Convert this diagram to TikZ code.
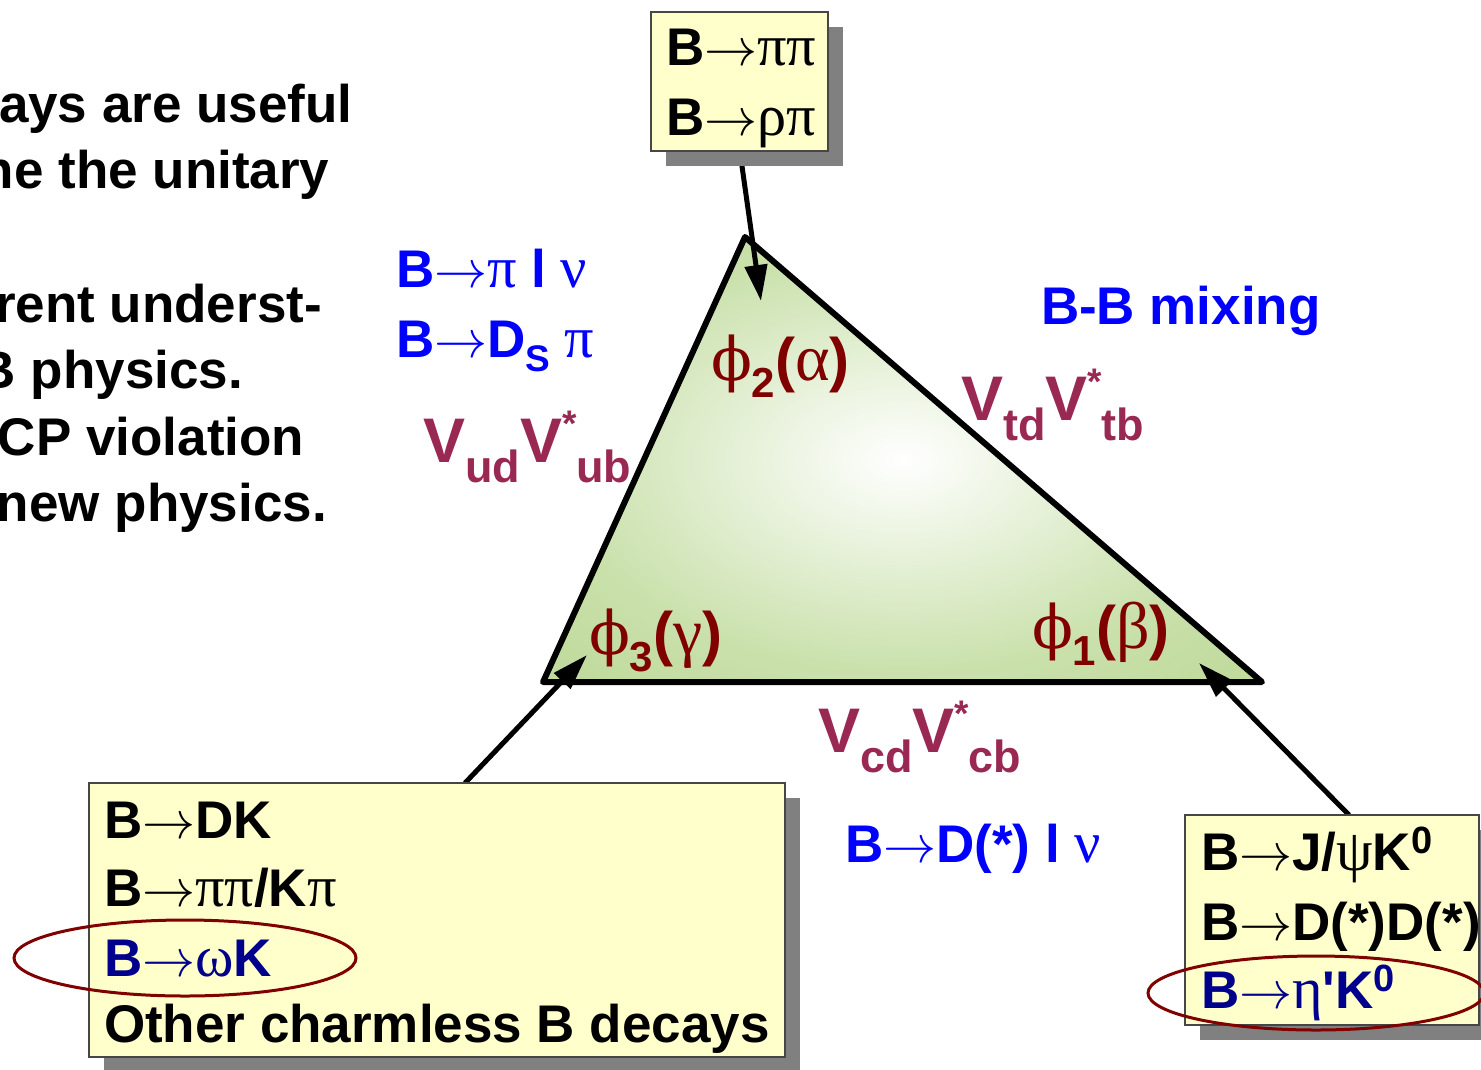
\RequirePackage{fix-cm}
\documentclass[tikz,border=0pt]{standalone}
\usepackage{fontspec}
\setmainfont{Liberation Sans}
\newfontfamily\gkfont[Scale=1.1]{Liberation Serif}
\newfontfamily\phifont{DejaVu Serif}
\usetikzlibrary{arrows.meta,shadows}
\definecolor{blueT}{RGB}{0,0,255}
\definecolor{navyT}{RGB}{0,0,140}
\definecolor{vcol}{RGB}{153,40,82}
\definecolor{angcol}{RGB}{128,0,0}
\definecolor{ellcol}{RGB}{128,0,0}
\definecolor{boxfill}{RGB}{255,255,204}
\definecolor{boxline}{RGB}{70,70,70}
\definecolor{shadowgray}{RGB}{128,128,128}
\pgfdeclareradialshading{trishade}{\pgfpoint{0bp}{0bp}}{rgb(0bp)=(1,1,1); rgb(8bp)=(0.93,0.96,0.89); rgb(24bp)=(0.79,0.88,0.67); rgb(50bp)=(0.69,0.82,0.52); rgb(72bp)=(0.55,0.74,0.33)}
\newcommand{\gr}[1]{{\gkfont\mdseries #1}}
\newcommand{\ra}{\ensuremath{\rightarrow}}
\newcommand{\fs}[1]{\fontsize{#1}{#1}\selectfont}
\newcommand{\ckm}[2]{V\raisebox{-20pt}{\fs{45}#1}V\raisebox{26pt}{\fs{37}*}\raisebox{-20pt}{\fs{45}#2}}
\newcommand{\ang}[2]{{\phifont\mdseries ϕ}\raisebox{-17pt}{\fs{42}#1}(\gr{#2})}
\newcommand{\kz}{K\raisebox{17pt}{\fs{38}0}}
\tikzset{
  lbl/.style={anchor=base west, inner sep=0pt, outer sep=0pt, font=\fs{53}\bfseries},
  vlab/.style={anchor=base west, inner sep=0pt, outer sep=0pt, font=\fs{63}\bfseries, text=vcol},
  anglab/.style={anchor=base west, inner sep=0pt, outer sep=0pt, font=\fs{60}\bfseries, text=angcol},
  box/.style={draw=boxline, line width=1.2pt, fill=boxfill, inner sep=0pt, outer sep=0pt,
    general shadow={fill=shadowgray, shadow xshift=15pt, shadow yshift=-15pt}},
  arr/.style={line width=5pt, -{Triangle[length=36pt,width=22pt]}},
  ell/.style={draw=ellcol, line width=3pt},
}
\begin{document}
\begin{tikzpicture}[x=1pt,y=-1pt]
\useasboundingbox (0,0) rectangle (1481,1069);
\clip (0,0) rectangle (1481,1069);
% unitarity triangle
\coordinate (A) at (745,237);
\coordinate (G) at (543,682);
\coordinate (Bt) at (1262,682);
\shade[shading=trishade] (A) -- (G) -- (Bt) -- cycle;
\draw[line width=6pt, line join=round] (A) -- (G) -- (Bt) -- cycle;
% arrows
\coordinate (sT) at (740,152);
\coordinate (tT) at (761,301);
\coordinate (sL) at (465,783);
\coordinate (tL) at (587,655);
\coordinate (sR) at (1349,815);
\coordinate (tR) at (1199,663);
\draw[arr] (sT) -- (tT);
\draw[arr] (sL) -- (tL);
\draw[arr] (sR) -- (tR);
% boxes
\node[box, minimum width=177pt, minimum height=139pt] (tb) at (739.5,81.5) {};
\node[box, minimum width=696pt, minimum height=274pt] (lb) at (437,920) {};
\node[box, minimum width=294pt, minimum height=210pt] (rb) at (1332,920) {};
% left text
\node[lbl] (l1) at (-1,122) {ays are useful};
\node[lbl] (l2) at (-18,188) {ne the unitary};
\node[lbl] (l3) at (-5,322) {rent underst-};
\node[lbl] (l4) at (-22,388) {B physics.};
\node[lbl] (l5) at (-2,455) {CP violation};
\node[lbl] (l6) at (-3,521) {new physics.};
% top box text
\node[lbl] (t1) at (666,65) {B\ra\gr{ππ}};
\node[lbl] (t2) at (666,135) {B\ra\gr{ρπ}};
% blue labels
\node[lbl, text=blueT] (b1) at (396,287) {B\ra\gr{π} l \gr{ν}};
\node[lbl, text=blueT] (b2) at (396,357) {B\ra D\raisebox{-14pt}{\fs{37}S} \gr{π}};
\node[lbl, text=blueT] (b3) at (1041,324) {B-B mixing};
\node[lbl, text=blueT] (b4) at (845,862) {B\ra D(*) l \gr{ν}};
% CKM labels
\node[vlab] (v1) at (423,462) {\ckm{ud}{ub}};
\node[vlab] (v2) at (961,420) {\ckm{td}{tb}};
\node[vlab] (v3) at (818,752) {\ckm{cd}{cb}};
% angles
\node[anglab] (a2) at (711,380) {\ang{2}{α}};
\node[anglab] (a3) at (589,654) {\ang{3}{γ}};
\node[anglab] (a1) at (1032,648) {\ang{1}{β}};
% left box text
\node[lbl] (d1) at (104,838) {B\ra DK};
\node[lbl] (d2) at (104,906) {B\ra\gr{ππ}/K\gr{π}};
\node[lbl, text=navyT] (d3) at (104,976) {B\ra\gr{ω}K};
\node[lbl] (d4) at (104,1042) {Other charmless B decays};
% right box text
\node[lbl] (r1) at (1201,870) {B\ra J/\gr{ψ}\kz};
\node[lbl] (r2) at (1201,940) {B\ra D(*)D(*)};
\node[lbl, text=navyT] (r3) at (1201,1008) {B\ra\gr{η}\textquotesingle\kz};
% ellipses
\draw[ell] (185,958) ellipse [x radius=171, y radius=38];
\draw[ell] (1316,993) ellipse [x radius=168, y radius=37];
\end{tikzpicture}
\end{document}
